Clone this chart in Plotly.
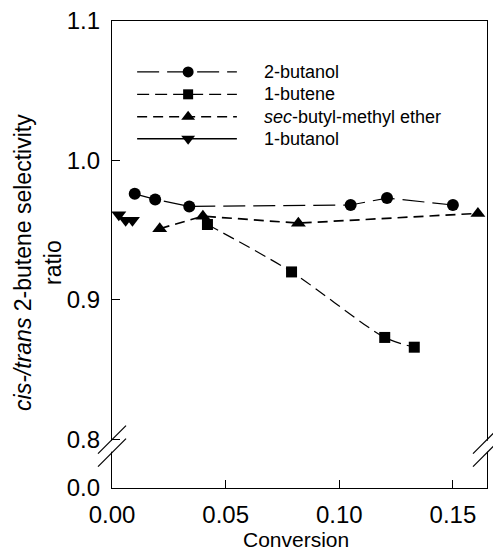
import plotly.graph_objects as go

# ---- data ----
butanol2_x = [0.010, 0.019, 0.034, 0.105, 0.121, 0.150]
butanol2_y = [0.976, 0.972, 0.967, 0.968, 0.973, 0.968]
butene1_x = [0.042, 0.079, 0.120, 0.133]
butene1_y = [0.954, 0.920, 0.873, 0.866]
ether_x = [0.021, 0.040, 0.082, 0.161]
ether_y = [0.951, 0.960, 0.955, 0.962]
butanol1_x = [0.003, 0.006, 0.009]
butanol1_y = [0.961, 0.957, 0.957]

series_names = ["2-butanol", "1-butene", "<i>sec</i>-butyl-methyl ether", "1-butanol"]
x_tickvals = [0.0, 0.05, 0.10, 0.15]
x_ticktext = ["0.00", "0.05", "0.10", "0.15"]
y_ticktext = ["0.0", "0.8", "0.9", "1.0", "1.1"]

# broken axis: "0.0" sits at the bottom of the compressed range
Y_ZERO_POS = 0.765
y_tickvals = [Y_ZERO_POS, 0.8, 0.9, 1.0, 1.1]
Y_BREAK = 0.795

FONT = "Liberation Sans, Arial, sans-serif"
styles = [
    dict(dash="22px,8px", symbol="circle", width=1.2, size=12),
    dict(dash="12px,6px", symbol="square", width=1.2, size=11),
    dict(dash="10px,6px", symbol="triangle-up", width=1.7, size=13),
    dict(dash="solid", symbol="triangle-down", width=1.4, size=13),
]
data = [(butanol2_x, butanol2_y), (butene1_x, butene1_y), (ether_x, ether_y), (butanol1_x, butanol1_y)]

fig = go.Figure()
for i, ((xs, ys), st) in enumerate(zip(data, styles)):
    fig.add_trace(go.Scatter(
        x=xs, y=ys, mode="lines+markers",
        line=dict(color="black", width=st["width"], dash=st["dash"],
                  shape="spline" if i == 1 else "linear", smoothing=0.8),
        marker=dict(symbol=st["symbol"], size=st["size"], color="black"),
        cliponaxis=False, showlegend=False,
    ))

# manual legend on an overlay axis
leg_rows = [0.891, 0.843, 0.795, 0.748]
for (name, st, yrow) in zip(series_names, styles, leg_rows):
    fig.add_trace(go.Scatter(
        x=[0.067, 0.333], y=[yrow, yrow], mode="lines", xaxis="x2", yaxis="y2",
        line=dict(color="black", width=st["width"], dash=st["dash"]), showlegend=False,
        hoverinfo="skip"))
    fig.add_trace(go.Scatter(
        x=[0.203], y=[yrow], mode="markers", xaxis="x2", yaxis="y2",
        marker=dict(symbol=st["symbol"], size=st["size"] - 1, color="black"), showlegend=False,
        hoverinfo="skip"))
    fig.add_annotation(x=0.400, y=yrow, xref="x2", yref="y2", text=name, showarrow=False,
                       xanchor="left", yanchor="middle", font=dict(size=18, family=FONT, color="black"))

# axis break covers and slashes
px_x = 1 / 375.0
px_y = 0.335 / 467.0
for xc in [0.0, 1.0]:
    fig.add_shape(type="rect", xref="paper", yref="y",
                  x0=xc - 4 * px_x, x1=xc + 4 * px_x,
                  y0=Y_BREAK - 5.5 * px_y, y1=Y_BREAK + 5.5 * px_y,
                  fillcolor="white", line=dict(width=0), layer="above")
    for off in [-6.5, 6.5]:
        yc = Y_BREAK + off * px_y
        fig.add_shape(type="line", xref="paper", yref="y",
                      x0=xc - 14 * px_x, x1=xc + 14 * px_x,
                      y0=yc - 14 * px_y, y1=yc + 14 * px_y,
                      line=dict(color="black", width=1.2), layer="above")

# y-axis title
fig.add_annotation(x=-74 / 375.0, y=0.482, xref="paper", yref="paper", textangle=-90,
                   text="<i>cis-/trans</i> 2-butene selectivity<br>ratio", showarrow=False,
                   xanchor="center", yanchor="middle",
                   font=dict(size=23, family=FONT, color="black"))
# x-axis title
fig.add_annotation(x=0.49, y=-65 / 467.0, xref="paper", yref="paper",
                   text="Conversion", showarrow=False, xanchor="center", yanchor="bottom",
                   font=dict(size=21, family=FONT, color="black"))

fig.update_layout(
    width=493, height=554,
    margin=dict(l=112, r=6, t=21, b=66),
    paper_bgcolor="white", plot_bgcolor="white",
    font=dict(family=FONT, color="black"),
    xaxis=dict(range=[0, 0.165], tickvals=x_tickvals, ticktext=x_ticktext,
               ticks="inside", ticklen=8, tickcolor="black", tickwidth=1,
               showline=True, linecolor="black", linewidth=1.2, mirror=True,
               showgrid=False, zeroline=False, ticklabelstandoff=5,
               tickfont=dict(size=24, family=FONT)),
    yaxis=dict(range=[Y_ZERO_POS, 1.1], tickvals=y_tickvals, ticktext=y_ticktext,
               ticks="inside", ticklen=8, tickcolor="black", tickwidth=1,
               showline=True, linecolor="black", linewidth=1.2, mirror=True,
               showgrid=False, zeroline=False, ticklabelstandoff=6,
               tickfont=dict(size=24, family=FONT)),
    xaxis2=dict(range=[0, 1], overlaying="x", visible=False, fixedrange=True),
    yaxis2=dict(range=[0, 1], overlaying="y", visible=False, fixedrange=True),
)

fig.write_html("out.html")
